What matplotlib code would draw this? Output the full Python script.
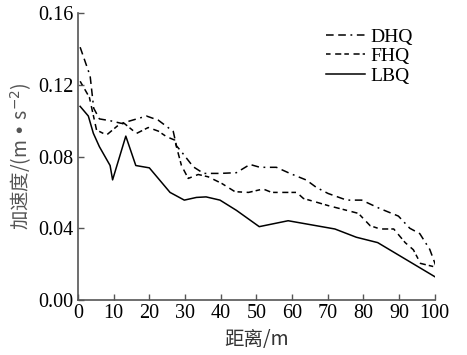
import numpy as np
import matplotlib.pyplot as plt
from matplotlib.ticker import FormatStrFormatter

# 数据
dhq_x = [0.6, 3.4, 4.4, 6.0, 9.0, 12.2, 19.2, 22.5, 26.7, 27.6, 29.0, 32.3, 35.2, 39.8, 44.4,
         48.2, 51.0, 55.6, 59.4, 64.0, 66.8, 70.1, 75.3, 79.5, 84.6, 89.8, 93.0, 95.8, 98.6, 100.5]
dhq_y = [0.141, 0.125, 0.107, 0.101, 0.100, 0.0985, 0.1026, 0.1003, 0.094, 0.086, 0.0827, 0.0743,
         0.0706, 0.0706, 0.0710, 0.0756, 0.0740, 0.0740, 0.0706, 0.0669, 0.0628, 0.0594, 0.0557,
         0.0557, 0.0510, 0.0468, 0.0400, 0.0370, 0.0282, 0.018]

fhq_x = [0.6, 3.2, 5.2, 8.0, 11.0, 12.9, 16.4, 19.7, 22.5, 24.8, 27.1, 29.0, 30.9, 33.7, 36.5,
         40.3, 44.0, 47.8, 51.9, 54.3, 61.3, 63.2, 66.4, 70.2, 75.3, 78.6, 81.9, 84.7, 88.5, 91.7,
         94.0, 96.0, 99.7]
fhq_y = [0.122, 0.113, 0.0948, 0.092, 0.097, 0.0986, 0.0929, 0.0962, 0.0942, 0.0911, 0.0892,
         0.075, 0.0678, 0.070, 0.0687, 0.065, 0.0604, 0.060, 0.0619, 0.060, 0.060, 0.0566, 0.0548,
         0.0526, 0.050, 0.0483, 0.0414, 0.0396, 0.0396, 0.032, 0.028, 0.0204, 0.0186]

lbq_x = [0.6, 2.9, 4.3, 6.0, 9.0, 9.7, 13.4, 16.2, 20.0, 25.8, 29.8, 33.2, 35.9, 39.8, 44.4,
         50.8, 58.9, 72.0, 78.0, 84.0, 100.0]
lbq_y = [0.108, 0.1026, 0.093, 0.0855, 0.075, 0.067, 0.0914, 0.075, 0.0737, 0.060, 0.0557,
         0.0572, 0.0575, 0.0557, 0.050, 0.0409, 0.0442, 0.0396, 0.035, 0.032, 0.013]

x_ticks = list(range(0, 101, 10))
y_ticks = [0.00, 0.04, 0.08, 0.12, 0.16]

plt.rcParams['font.family'] = ['Liberation Serif', 'Noto Sans CJK SC']
plt.rcParams['font.size'] = 14

fig = plt.figure(figsize=(4.67, 3.55), dpi=100)
ax = fig.add_axes([0.167, 0.155, 0.764, 0.808])

ax.plot(dhq_x, dhq_y, color='black', lw=1.1, linestyle=(0, (5, 3, 5, 3, 1.2, 3)), label='DHQ')
ax.plot(fhq_x, fhq_y, color='black', lw=1.1, linestyle=(0, (3, 3, 4, 2)), label='FHQ')
ax.plot(lbq_x, lbq_y, color='black', lw=1.1, linestyle='-', label='LBQ')

ax.set_xlim(0, 100)
ax.set_ylim(0, 0.16)
ax.set_xticks(x_ticks)
ax.set_yticks(y_ticks)
ax.yaxis.set_major_formatter(FormatStrFormatter('%.2f'))

for s in ['top', 'right']:
    ax.spines[s].set_visible(False)
for s in ['left', 'bottom']:
    ax.spines[s].set_color('#555555')
    ax.spines[s].set_linewidth(1.2)
ax.tick_params(direction='in', length=4, width=1, color='#555555', labelsize=14.5, pad=3)

ax.set_xlabel('距离/m', family=['Noto Sans CJK SC'], fontsize=14, color='#333333', labelpad=4)
ax.set_ylabel('加速度/(m • s$^{-2}$)', family=['Noto Sans CJK SC'], fontsize=14, color='#555555', labelpad=3)

ax.legend(loc='upper right', bbox_to_anchor=(0.96, 0.975), frameon=False, handlelength=2.0,
          handletextpad=0.3, labelspacing=0.1, borderaxespad=0, fontsize=14)

fig.savefig('out.png', dpi=100)
